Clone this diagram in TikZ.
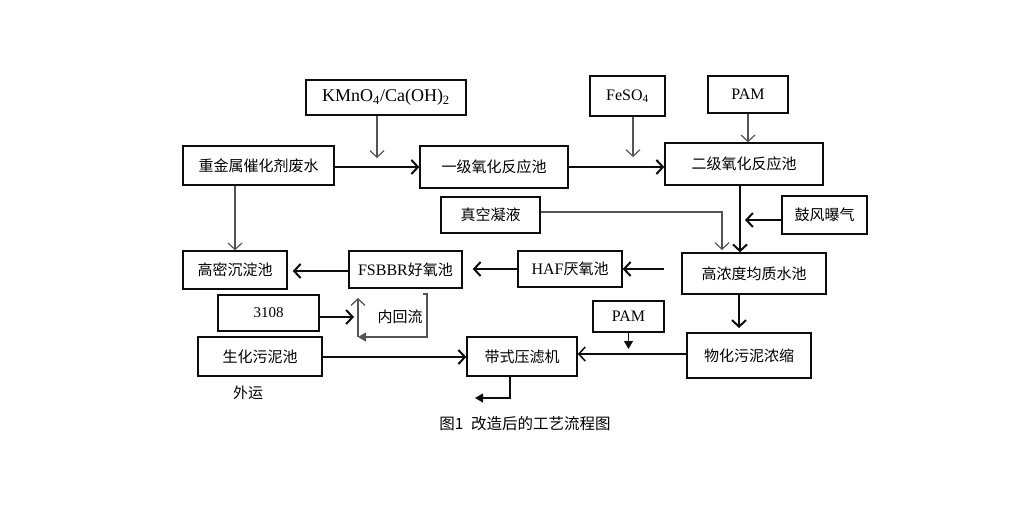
\documentclass[tikz,border=0pt]{standalone}
\usepackage{fontspec}
\setmainfont{Liberation Serif}
\newfontfamily\cjk{Noto Sans CJK SC}
\usetikzlibrary{arrows.meta}

\definecolor{ink}{rgb}{0.05,0.05,0.05}
\definecolor{feedgray}{rgb}{0.33,0.33,0.33}

\tikzset{
	tankbox/.style={draw=ink, line width=1.4pt, inner sep=0pt, font=\fontsize{15}{18}\selectfont\cjk},
	flow/.style={->, draw=ink, line width=2pt},
	feedin/.style={->, draw=feedgray, line width=1.2pt},
	dose/.style={-{Triangle[length=8pt,width=9pt]}, draw=ink, line width=1.2pt},
	recycle/.style={draw=feedgray, line width=1.3pt}
}

% box from its two corners: name, x1, y1, x2, y2, text
\newcommand{\tank}[6]{
	\node[tankbox, minimum width={(#4-#2)*1pt}, minimum height={(#5-#3)*1pt}] (#1) at ({(#2+#4)/2},{(#3+#5)/2}) {#6};
}
\newcommand{\lat}[1]{{\rmfamily #1}}

\begin{document}
\begin{tikzpicture}[x=1pt, y=-1pt, >={Straight Barb[length=6.5pt,width=14pt]}]
	\useasboundingbox (0,0) rectangle (1024,512);

	% dosing boxes on top
	\tank{kmno}{306}{80}{466}{115}{\lat{\fontsize{18}{20}\selectfont KMnO\textsubscript{4}/Ca(OH)\textsubscript{2}}}
	\tank{feso}{590}{76}{665}{116}{\lat{\fontsize{16}{18}\selectfont FeSO\textsubscript{4}}}
	\tank{pamA}{708}{76}{788}{113}{\lat{\fontsize{16}{18}\selectfont PAM}}

	% oxidation line
	\tank{feed}{183}{146}{334}{185}{重金属催化剂废水}
	\tank{ox1}{420}{146}{568}{188}{一级氧化反应池}
	\tank{ox2}{665}{143}{823}{185}{二级氧化反应池}

	% side inputs
	\tank{vac}{441}{197}{540}{233}{真空凝液}
	\tank{blow}{782}{196}{867}{234}{鼓风曝气}

	% biological line
	\tank{eq}{682}{253}{826}{294}{高浓度均质水池}
	\tank{haf}{518}{251}{622}{287}{\lat{\fontsize{16}{18}\selectfont HAF}厌氧池}
	\tank{fsbbr}{349}{251}{462}{288}{\lat{\fontsize{16}{18}\selectfont FSBBR}好氧池}
	\tank{sed}{183}{251}{287}{289}{高密沉淀池}

	% sludge line
	\tank{seed}{218}{295}{319}{331}{\lat{3108}}
	\tank{bio}{198}{337}{322}{376}{生化污泥池}
	\tank{press}{467}{337}{577}{376}{带式压滤机}
	\tank{pamB}{593}{301}{664}{332}{\lat{\fontsize{16}{18}\selectfont PAM}}
	\tank{thick}{687}{333}{811}{378}{物化污泥浓缩}

	% loose labels
	\node[font=\fontsize{15}{18}\selectfont\cjk] (back) at (400,317) {内回流};
	\node[font=\fontsize{15}{18}\selectfont\cjk] (ship) at (248,393) {外运};
	\node[font=\fontsize{15.5}{18}\selectfont\cjk] (title) at (525,424) {图1\hspace{0.5em}改造后的工艺流程图};

	% free arrow ends
	\coordinate (kin) at (377,158);
	\coordinate (fin) at (633,157);
	\coordinate (bin) at (745,220);
	\coordinate (vin) at (722,250);
	\coordinate (rin) at (354,317);
	\coordinate (tin) at (739,328);
	\coordinate (pin) at (628.5,349);
	\coordinate (out) at (475,398);
	\coordinate (ltop) at (423,294);
	\coordinate (lcorner) at (427,337);
	\coordinate (lbase) at (358,337);
	\coordinate (lup) at (358,298);

	% main flow
	\draw[flow] ([yshift=-1.5pt]feed.east) -- ([yshift=-1.5pt]feed.east -| ox1.west);
	\draw[flow] (ox1.east) -- (ox1.east -| ox2.west);
	\draw[flow] ([xshift=-4pt]ox2.south) -- ([xshift=-4pt]ox2.south |- eq.north);
	\draw[flow, shorten <=17pt] (haf.east -| eq.west) -- (haf.east);
	\draw[flow, shorten >=10pt] (haf.west) -- (haf.west -| fsbbr.east);
	\draw[flow, shorten >=5pt] ([yshift=-1.5pt]fsbbr.west) -- ([yshift=-1.5pt]fsbbr.west -| sed.east);
	\draw[flow] (eq.south -| tin) -- (tin);

	% dosing and side streams
	\draw[feedin] (kmno.south -| kin) -- (kin);
	\draw[feedin] (feso.south -| fin) -- (fin);
	\draw[feedin] (pamA.south) -- (pamA.south |- ox2.north);
	\draw[feedin] (feed.south -| sed.north) -- (sed.north);
	\draw[feedin] ([yshift=3pt]vac.east) -| (vin);
	\draw[flow] ([yshift=-5pt]blow.west) -- (bin);

	% internal recycle
	\draw[flow] ([yshift=-4pt]seed.east) -- (rin);
	\draw[recycle, -{Triangle[length=8pt,width=9pt]}] (ltop) -| (lcorner) -- (lbase);
	\draw[recycle, ->] (lbase) -- (lup);

	% sludge handling
	\draw[flow] ([yshift=-0.5pt]bio.east) -- ([yshift=-0.5pt]bio.east -| press.west);
	\draw[->, draw=ink, line width=1.5pt] ([yshift=1.5pt]thick.west) -- ([yshift=1.5pt]thick.west -| press.east);
	\draw[dose] (pamB.south) -- (pin);
	\draw[dose] ([xshift=-12pt]press.south) |- (out);
\end{tikzpicture}
\end{document}
